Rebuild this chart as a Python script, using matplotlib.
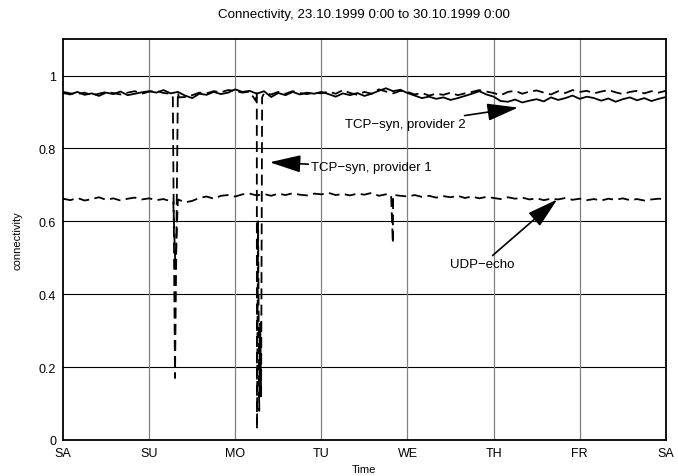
import numpy as np
import matplotlib
matplotlib.use("Agg")
from matplotlib import pyplot as plt

plt.rcParams['font.family'] = ['Liberation Sans', 'DejaVu Sans']
plt.rcParams['font.size'] = 8

# time in days since Sat 23.10.1999 0:00, 2 h sampling
t = np.arange(85) / 12.0

# TCP-syn, provider 2 (solid)
prov2 = [0.952, 0.948, 0.955, 0.947, 0.951, 0.944, 0.953, 0.949, 0.956, 0.946, 0.950, 0.954,
         0.957, 0.953, 0.960, 0.951, 0.955, 0.945, 0.938, 0.950, 0.947, 0.955, 0.949, 0.953,
         0.962, 0.955, 0.958, 0.950, 0.957, 0.941, 0.952, 0.946, 0.955, 0.948, 0.953, 0.950,
         0.955, 0.949, 0.942, 0.951, 0.946, 0.952, 0.944, 0.950, 0.958, 0.965, 0.957, 0.961,
         0.952, 0.945, 0.938, 0.942, 0.936, 0.940, 0.933, 0.938, 0.944, 0.950, 0.957, 0.948,
         0.942, 0.930, 0.928, 0.934, 0.926, 0.931, 0.935, 0.929, 0.940, 0.933, 0.938, 0.945,
         0.936, 0.942, 0.938, 0.931, 0.937, 0.928, 0.935, 0.940, 0.932, 0.938, 0.930, 0.936,
         0.941]

# TCP-syn, provider 1 (dashed)
prov1 = [0.955, 0.951, 0.949, 0.953, 0.946, 0.950, 0.955, 0.952, 0.948, 0.953, 0.957, 0.950,
         0.956, 0.958, 0.952, 0.950, 0.954, 0.941, 0.946, 0.953, 0.951, 0.957, 0.954, 0.960,
         0.958, 0.953, 0.956, 0.955, 0.951, 0.948, 0.955, 0.950, 0.957, 0.952, 0.949, 0.953,
         0.951, 0.956, 0.950, 0.960, 0.952, 0.947, 0.955, 0.950, 0.962, 0.956, 0.951, 0.958,
         0.955, 0.948, 0.952, 0.945, 0.950, 0.947, 0.953, 0.946, 0.951, 0.955, 0.960, 0.956,
         0.952, 0.946, 0.955, 0.958, 0.950, 0.956, 0.959, 0.953, 0.948, 0.957, 0.952, 0.960,
         0.955, 0.958, 0.951, 0.956, 0.960, 0.954, 0.949, 0.955, 0.958, 0.951, 0.957, 0.953,
         0.958]
# outages of provider 1 (day, connectivity)
dip1_t = [1.275, 1.300, 1.345, 2.240, 2.252, 2.265, 2.278, 2.290, 2.300, 2.312]
dip1_v = [0.940, 0.170, 0.940, 0.930, 0.030, 0.600, 0.080, 0.320, 0.120, 0.940]

# UDP-echo (dashed)
udp = [0.662, 0.658, 0.664, 0.657, 0.661, 0.666, 0.659, 0.663, 0.657, 0.662, 0.665, 0.660,
       0.663, 0.658, 0.661, 0.655, 0.659, 0.652, 0.656, 0.664, 0.668, 0.662, 0.670, 0.672,
       0.668, 0.674, 0.676, 0.671, 0.675, 0.670, 0.676, 0.672, 0.677, 0.673, 0.671, 0.676,
       0.674, 0.678, 0.672, 0.675, 0.671, 0.676, 0.673, 0.678, 0.670, 0.674, 0.672, 0.670,
       0.668, 0.672, 0.667, 0.670, 0.665, 0.669, 0.666, 0.670, 0.664, 0.668, 0.663, 0.667,
       0.664, 0.661, 0.666, 0.662, 0.665, 0.660, 0.663, 0.658, 0.662, 0.660, 0.664, 0.659,
       0.662, 0.658, 0.661, 0.657, 0.662, 0.659, 0.663, 0.658, 0.661, 0.657, 0.660, 0.662,
       0.660]
dipu_t = [1.280, 1.305, 1.335, 3.810, 3.830, 3.850]
dipu_v = [0.655, 0.470, 0.660, 0.672, 0.540, 0.672]

days = ['SA', 'SU', 'MO', 'TU', 'WE', 'TH', 'FR', 'SA']
yticks = [0, 0.2, 0.4, 0.6, 0.8, 1.0]
ylabels = ['0', '0.2', '0.4', '0.6', '0.8', '1']


def merge(tb, vb, td, vd):
    tt = np.concatenate([tb, td])
    vv = np.concatenate([vb, vd])
    o = np.argsort(tt, kind='stable')
    return tt[o], vv[o]


fig = plt.figure(figsize=(6.78, 4.77), dpi=100)
ax = fig.add_axes([0.093, 0.0755, 0.889, 0.8405])

# grid: horizontal black, vertical grey
for y in yticks[1:]:
    ax.axhline(y, color='black', lw=0.8, zorder=1)
for d in range(1, 7):
    ax.axvline(d, color='#808080', lw=0.9, zorder=1)

x2, y2 = t, np.array(prov2)
ax.plot(x2, y2, color='black', lw=1.3, zorder=3)

x1, y1 = merge(t, np.array(prov1), dip1_t, dip1_v)
ax.plot(x1, y1, color='black', lw=1.3, dashes=(6, 3), zorder=3)

xu, yu = merge(t, np.array(udp), dipu_t, dipu_v)
ax.plot(xu, yu, color='black', lw=1.3, dashes=(6, 3), zorder=3)

arrow = dict(arrowstyle='-|>,head_length=1.6,head_width=0.45', color='black',
             lw=1.2, mutation_scale=12, shrinkA=0, shrinkB=0)
ax.annotate('TCP\u2212syn, provider 1', xy=(2.40, 0.762), xytext=(2.88, 0.748),
            ha='left', va='center', fontsize=9.5, arrowprops=arrow)
ax.annotate('TCP\u2212syn, provider 2', xy=(5.285, 0.912), xytext=(4.68, 0.866),
            ha='right', va='center', fontsize=9.5, arrowprops=arrow)
ax.annotate('UDP\u2212echo', xy=(5.74, 0.66), xytext=(4.87, 0.482),
            ha='center', va='center', fontsize=9.5, arrowprops=arrow)

ax.set_xlim(0, 7)
ax.set_ylim(0, 1.1)
ax.set_xticks(range(8))
ax.set_xticklabels(days)
ax.set_yticks(yticks)
ax.set_yticklabels(ylabels)
ax.tick_params(length=0, pad=5, labelsize=9)
for s in ax.spines.values():
    s.set_linewidth(1.3)

ax.set_title('Connectivity, 23.10.1999 0:00 to 30.10.1999 0:00', pad=16)
ax.set_xlabel('Time', labelpad=4)
ax.set_ylabel('connectivity', labelpad=12)

fig.savefig('out.png', dpi=100)
